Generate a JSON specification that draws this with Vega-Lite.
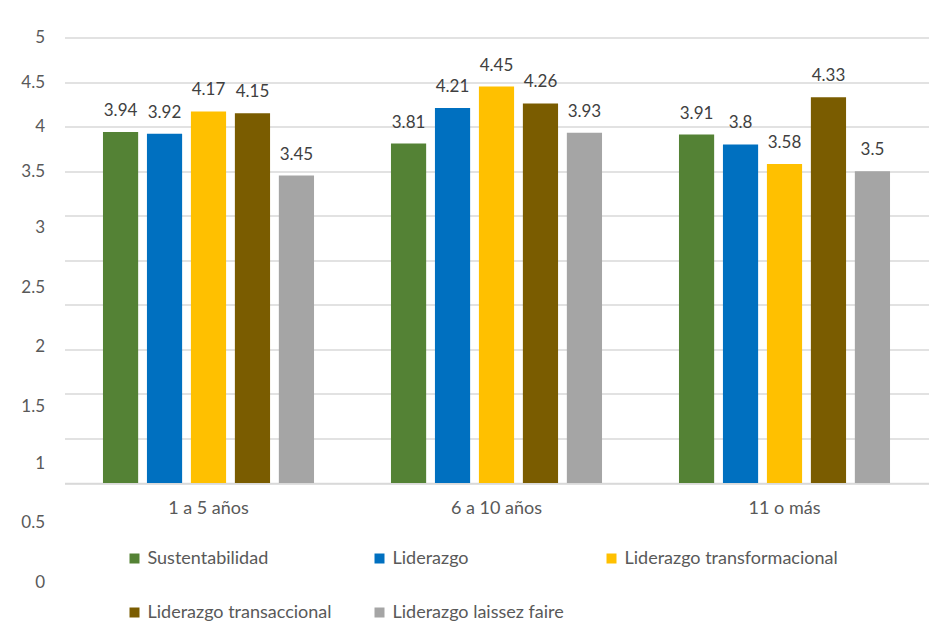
{
  "$schema": "https://vega.github.io/schema/vega-lite/v6.json",
  "width": 864,
  "height": 445.5,
  "autosize": "none",
  "padding": {"left": 64.5, "top": 37.5, "right": 13.5, "bottom": 148},
  "background": "white",
  "config": {
    "view": {"stroke": null},
    "font": "Lato",
    "axis": {"labelFont": "Lato", "labelFontSize": 17, "labelColor": "#595959"}
  },
  "data": {
    "values": [
      {"grupo": "1 a 5 años", "serie": "Sustentabilidad", "valor": 3.94},
      {"grupo": "1 a 5 años", "serie": "Liderazgo", "valor": 3.92},
      {"grupo": "1 a 5 años", "serie": "Liderazgo transformacional", "valor": 4.17},
      {"grupo": "1 a 5 años", "serie": "Liderazgo transaccional", "valor": 4.15},
      {"grupo": "1 a 5 años", "serie": "Liderazgo laissez faire", "valor": 3.45},
      {"grupo": "6 a 10 años", "serie": "Sustentabilidad", "valor": 3.81},
      {"grupo": "6 a 10 años", "serie": "Liderazgo", "valor": 4.21},
      {"grupo": "6 a 10 años", "serie": "Liderazgo transformacional", "valor": 4.45},
      {"grupo": "6 a 10 años", "serie": "Liderazgo transaccional", "valor": 4.26},
      {"grupo": "6 a 10 años", "serie": "Liderazgo laissez faire", "valor": 3.93},
      {"grupo": "11 o más", "serie": "Sustentabilidad", "valor": 3.91},
      {"grupo": "11 o más", "serie": "Liderazgo", "valor": 3.8},
      {"grupo": "11 o más", "serie": "Liderazgo transformacional", "valor": 3.58},
      {"grupo": "11 o más", "serie": "Liderazgo transaccional", "valor": 4.33},
      {"grupo": "11 o más", "serie": "Liderazgo laissez faire", "valor": 3.5}
    ]
  },
  "encoding": {
    "x": {
      "field": "grupo",
      "type": "nominal",
      "sort": ["1 a 5 años", "6 a 10 años", "11 o más"],
      "scale": {"paddingInner": 0, "paddingOuter": 0},
      "axis": {
        "title": null,
        "labelAngle": 0,
        "ticks": false,
        "domainColor": "#d9d9d9",
        "domainWidth": 1.5,
        "labelPadding": 16,
        "labelBaseline": "top",
        "labelFontSize": 18
      }
    },
    "xOffset": {
      "field": "serie",
      "type": "nominal",
      "sort": ["Sustentabilidad", "Liderazgo", "Liderazgo transformacional", "Liderazgo transaccional", "Liderazgo laissez faire"],
      "scale": {"paddingInner": 0.2, "paddingOuter": 0.875}
    },
    "y": {
      "field": "valor",
      "type": "quantitative",
      "scale": {"domain": [0, 5], "nice": false},
      "axis": {
        "title": null,
        "values": [0, 0.5, 1, 1.5, 2, 2.5, 3, 3.5, 4, 4.5, 5],
        "format": "~g",
        "ticks": false,
        "domain": false,
        "gridColor": "#d9d9d9",
        "gridWidth": 1.5,
        "labelPadding": 20,
        "labelFlush": false,
        "labelOverlap": false,
        "labelBound": false,
        "labelOffset": {
          "condition": [
            {"test": "datum.value == 3", "value": 12},
            {"test": "datum.value == 2.5", "value": 27},
            {"test": "datum.value == 2", "value": 42},
            {"test": "datum.value == 1.5", "value": 57},
            {"test": "datum.value == 1", "value": 70},
            {"test": "datum.value == 0.5", "value": 84},
            {"test": "datum.value == 0", "value": 99}
          ],
          "value": 0
        }
      }
    }
  },
  "layer": [
    {
      "mark": {"type": "bar"},
      "encoding": {
        "color": {
          "field": "serie",
          "type": "nominal",
          "sort": ["Sustentabilidad", "Liderazgo", "Liderazgo transformacional", "Liderazgo transaccional", "Liderazgo laissez faire"],
          "scale": {
            "domain": ["Sustentabilidad", "Liderazgo", "Liderazgo transformacional", "Liderazgo transaccional", "Liderazgo laissez faire"],
            "range": ["#548235", "#0070c0", "#ffc000", "#7a5c00", "#a5a5a5"]
          },
          "legend": {
            "title": null,
            "orient": "none",
            "legendX": 61,
            "legendY": 512,
            "direction": "horizontal",
            "columns": 3,
            "columnPadding": 38,
            "rowPadding": 36,
            "padding": 0,
            "symbolType": "square",
            "symbolSize": 100,
            "symbolStrokeWidth": 0,
            "labelFont": "Lato",
            "labelFontSize": 18,
            "labelColor": "#595959",
            "labelLimit": 400,
            "labelOffset": 4
          }
        }
      }
    },
    {
      "mark": {"type": "text", "baseline": "bottom", "dy": -12, "fontSize": 17, "font": "Lato", "color": "#404040"},
      "encoding": {
        "text": {"field": "valor", "type": "quantitative"}
      }
    }
  ]
}
